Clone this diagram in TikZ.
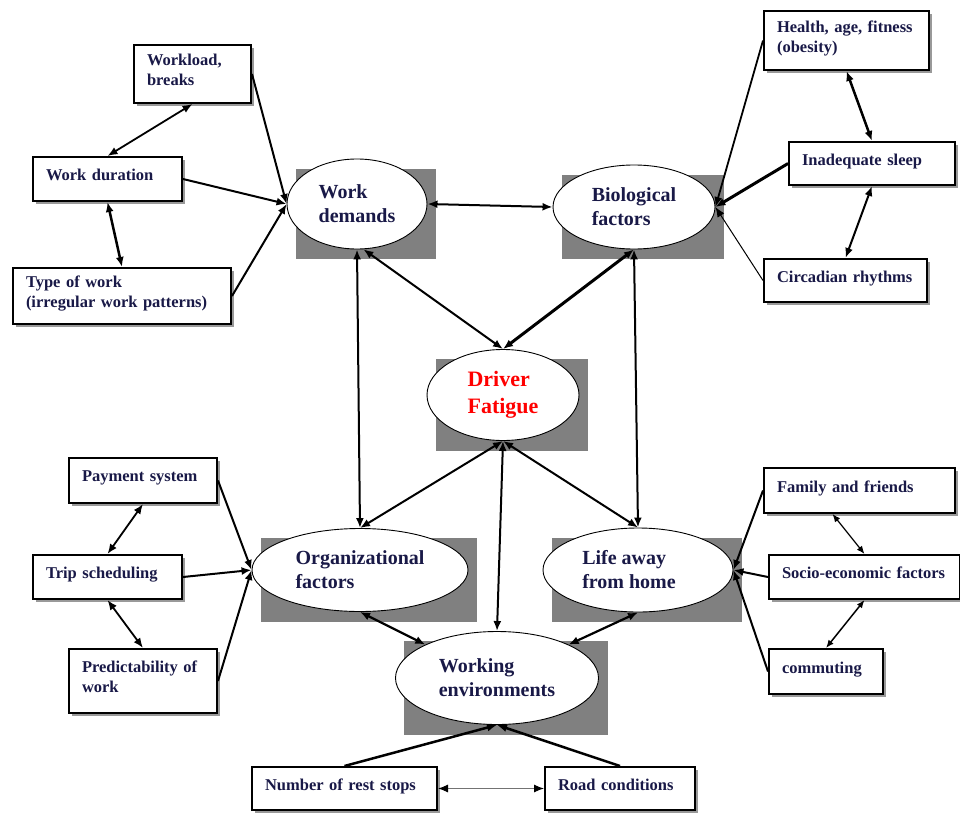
\documentclass[tikz,border=0pt]{standalone}
\usepackage{fontspec}
\setmainfont{Liberation Serif}
\usetikzlibrary{shapes.geometric,arrows.meta,shadows,backgrounds,calc}
\definecolor{inkblue}{rgb}{0.1,0.1,0.28}
\definecolor{fatiguered}{rgb}{1.0,0.0,0.0}
\definecolor{shadegray}{rgb}{0.5,0.5,0.5}

\tikzset{
  factor/.style={draw,line width=2pt,fill=white,anchor=north west,align=left,
    inner xsep=13pt,inner ysep=0pt,text depth=8pt,text=inkblue,
    font=\fontsize{16.5}{20}\selectfont\bfseries,
    drop shadow={shadow xshift=3pt,shadow yshift=-3pt,fill=black!50,opacity=0.8}},
  two lines/.style={text depth=28pt},
  cluster/.style={ellipse,draw,line width=0.9pt,fill=white,inner sep=0pt,align=left,
    text=inkblue,font=\fontsize{20}{24}\selectfont\bfseries},
  link/.style={line width=2pt,<->},
  feed/.style={line width=2pt,->},
  small tips/.style={>={Latex[length=8pt,width=6.5pt]}},
}

\begin{document}
\begin{tikzpicture}[x=1pt,y=-1pt,>={Latex[length=10pt,width=8pt]}]
    \useasboundingbox (0,0) rectangle (960,813);
    % Clusters
    \node[cluster,minimum width=140pt,minimum height=90pt] (wd) at (357,204) {Work\\demands};
    \node[cluster,minimum width=162pt,minimum height=84pt] (bio) at (634,207) {Biological\\factors};
    \node[cluster,minimum width=152pt,minimum height=91pt,text=fatiguered,
          font=\fontsize{22}{27}\selectfont\bfseries] (df) at (503,395) {Driver\\Fatigue};
    \node[cluster,minimum width=216pt,minimum height=83pt] (org) at (360,570) {Organizational\\factors};
    \node[cluster,minimum width=190pt,minimum height=84pt] (life) at (638,570) {Life away\\from home\rule{18pt}{0pt}};
    \node[cluster,minimum width=203pt,minimum height=93pt] (env) at (497,678) {Working\\environments};
    \begin{scope}[on background layer]
      \foreach \e in {wd,bio,df,org,life,env}
        \fill[shadegray] ($(\e.west |- \e.north)+(9,10)$) rectangle ($(\e.east |- \e.south)+(9,10)$);
    \end{scope}
    % Work demands
    \node[factor,two lines,minimum width=117pt,minimum height=58pt,text width=91pt] (load) at (133,44) {Workload,\\breaks};
    \node[factor,minimum width=149pt,minimum height=44pt,text width=123pt] (dur) at (32,156) {Work duration};
    \node[factor,two lines,minimum width=218pt,minimum height=56pt,text width=192pt] (type) at (12,267) {Type of work\\(irregular work patterns)};
    % Biological factors
    \node[factor,two lines,minimum width=163pt,minimum height=59pt,text width=139pt] (health) at (763,10) {Health, age, fitness\\(obesity)};
    \node[factor,minimum width=166pt,minimum height=43pt,text width=140pt] (sleep) at (788,141) {Inadequate sleep};
    \node[factor,minimum width=163pt,minimum height=43pt,text width=137pt] (circ) at (763,258) {Circadian rhythms};
    % Organizational factors
    \node[factor,minimum width=148pt,minimum height=45pt,text width=122pt] (pay) at (68,457) {Payment system};
    \node[factor,minimum width=149pt,minimum height=44pt,text width=123pt] (trip) at (32,554) {Trip scheduling};
    \node[factor,two lines,minimum width=148pt,minimum height=64pt,text width=122pt] (pred) at (68,648) {Predictability of\\work};
    % Life away from home
    \node[factor,minimum width=191pt,minimum height=45pt,text width=165pt] (family) at (763,467) {Family and friends};
    \node[factor,minimum width=189pt,minimum height=44pt,text width=165pt] (socio) at (768,554) {Socio-economic factors};
    \node[factor,minimum width=114pt,minimum height=45pt,text width=88pt] (comm) at (768,648) {commuting};
    % Working environments
    \node[factor,minimum width=185pt,minimum height=43pt,text width=159pt] (rest) at (251,766) {Number of rest stops};
    \node[factor,minimum width=150pt,minimum height=43pt,text width=124pt] (road) at (544,766) {Road conditions};
    % Arrows into clusters
    \draw[feed] (load.east) -- (wd.west);
    \draw[feed] (dur.east) -- (wd.west);
    \draw[feed] (type.east) -- (wd.west);
    \draw[feed,line width=1.8pt] (health.west) -- (bio.east);
    \draw[feed,line width=3pt] (sleep.west) -- (bio.east);
    \draw[feed,line width=1pt] (circ.west) -- (bio.east);
    \draw[feed] (pay.east) -- (org.west);
    \draw[feed] (trip.east) -- (org.west);
    \draw[feed] (pred.east) -- (org.west);
    \draw[feed] (family.west) -- (life.east);
    \draw[feed] (socio.west) -- (life.east);
    \draw[feed] (comm.west) -- (life.east);
    \draw[feed,line width=2.5pt] (rest.north) -- (env.south);
    \draw[feed,line width=2.5pt] (road.north) -- (env.south);
    % Links between boxes
    \draw[link,line width=1.8pt] (load.south) -- (dur.north);
    \draw[link,line width=2.5pt] (dur.south) -- (type.north);
    \draw[link,line width=2.5pt] (health.south) -- (sleep.north);
    \draw[link] (sleep.south) -- (circ.north);
    \draw[link,line width=1.8pt] (pay.south) -- (trip.north);
    \draw[link,line width=1.8pt] (trip.south) -- (pred.north);
    \draw[link,small tips,line width=1.2pt] ([xshift=-27pt]family.south) -- (socio.north);
    \draw[link,small tips,line width=1.5pt] (socio.south) -- (comm.north);
    \draw[link,line width=1pt,draw=black!55,{Latex[length=10pt,width=8pt,color=black]}-{Latex[length=10pt,width=8pt,color=black]}] (rest.east) -- (road.west);
    % Links between clusters
    \draw[link] (wd.east) -- (bio.west);
    \draw[link] (wd.-82) -- (df.north);
    \draw[link,line width=3pt] (bio.south) -- (df.north);
    \draw[link] (wd.south) -- (org.north);
    \draw[link] (bio.south) -- (life.north);
    \draw[link] (df.south) -- (org.north);
    \draw[link] (df.south) -- (life.north);
    \draw[link] (df.south) -- (env.north);
    \draw[link,line width=2.2pt] (org.south) -- (env.155);
    \draw[link,line width=2.2pt] (life.south) -- (env.25);
  \end{tikzpicture}
\end{document}
